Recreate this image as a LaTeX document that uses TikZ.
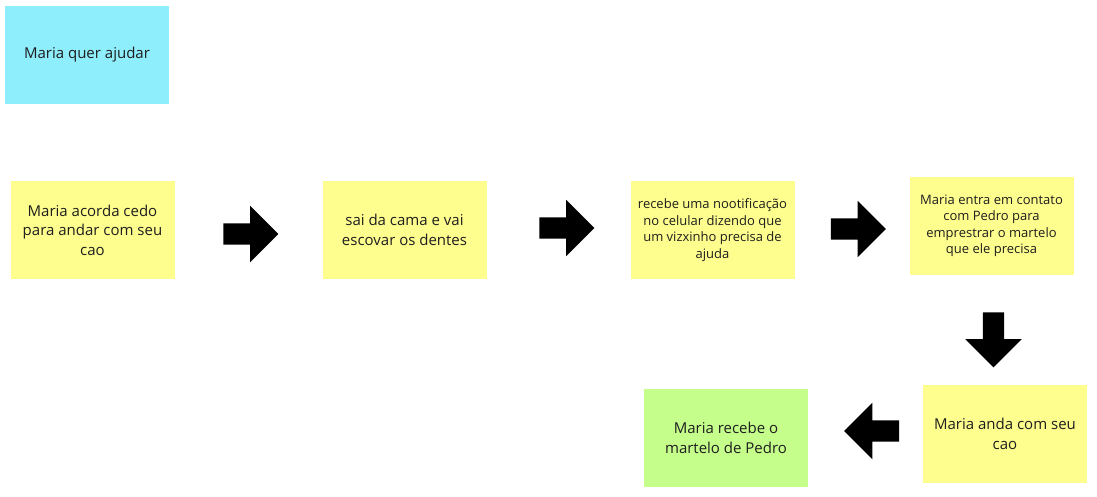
\documentclass[tikz,border=0pt]{standalone}
\usepackage{fontspec}
\setmainfont{Open Sans}
\usepackage{xcolor}
\usetikzlibrary{positioning,shapes.arrows}
\definecolor{notecyan}{HTML}{8EEEFC}
\definecolor{noteyellow}{HTML}{FEFE8E}
\definecolor{notegreen}{HTML}{C6FE8C}
\definecolor{notetext}{HTML}{1E1E1E}
\tikzset{
  note/.style={minimum width=164pt,minimum height=98pt,align=center,font=\fontsize{15}{19.5}\selectfont,text=notetext,inner sep=4pt},
  smallnote/.style={note,font=\fontsize{13}{16.5}\selectfont},
  blk/.style={single arrow,fill=black,draw=none,inner sep=0pt,inner ysep=10.5pt,minimum height=55pt,single arrow head extend=17.5pt,single arrow head indent=0pt},
}
\begin{document}
\begin{tikzpicture}[x=1pt,y=-1pt]
\useasboundingbox (0,0) rectangle (1097,496);
\node[note,fill=notecyan] (goal) at (87,55) {Maria quer ajudar};
\node[note,fill=noteyellow] (wake) at (92.5,230) {Maria acorda cedo\\ para andar com seu\\ cao};
\node[note,fill=noteyellow] (bed) at (404.5,230) {sai da cama e vai\\ escovar os dentes};
\node[smallnote,fill=noteyellow] (notif) at (712.5,230) {recebe uma nootificação\\ no celular dizendo que\\ um vizxinho precisa de\\ ajuda};
\node[smallnote,fill=noteyellow] (call) at (991.5,226) {Maria entra em contato\\ com Pedro para\\ emprestrar o martelo\\ que ele precisa};
\node[note,fill=noteyellow] (walk) at (1005,434) {Maria anda com seu\\ cao};
\node[note,fill=notegreen] (get) at (726,438) {Maria recebe o\\ martelo de Pedro};
% block arrows between the notes
\node[blk] (a1) at (245.5,234) {};
\node[blk] (a2) at (561.5,228) {};
\node[blk] (a3) at (853,229) {};
\node[blk,rotate=-90] (a4) at (993.5,334.5) {};
\node[blk,rotate=180] (a5) at (877,431) {};
\end{tikzpicture}
\end{document}
